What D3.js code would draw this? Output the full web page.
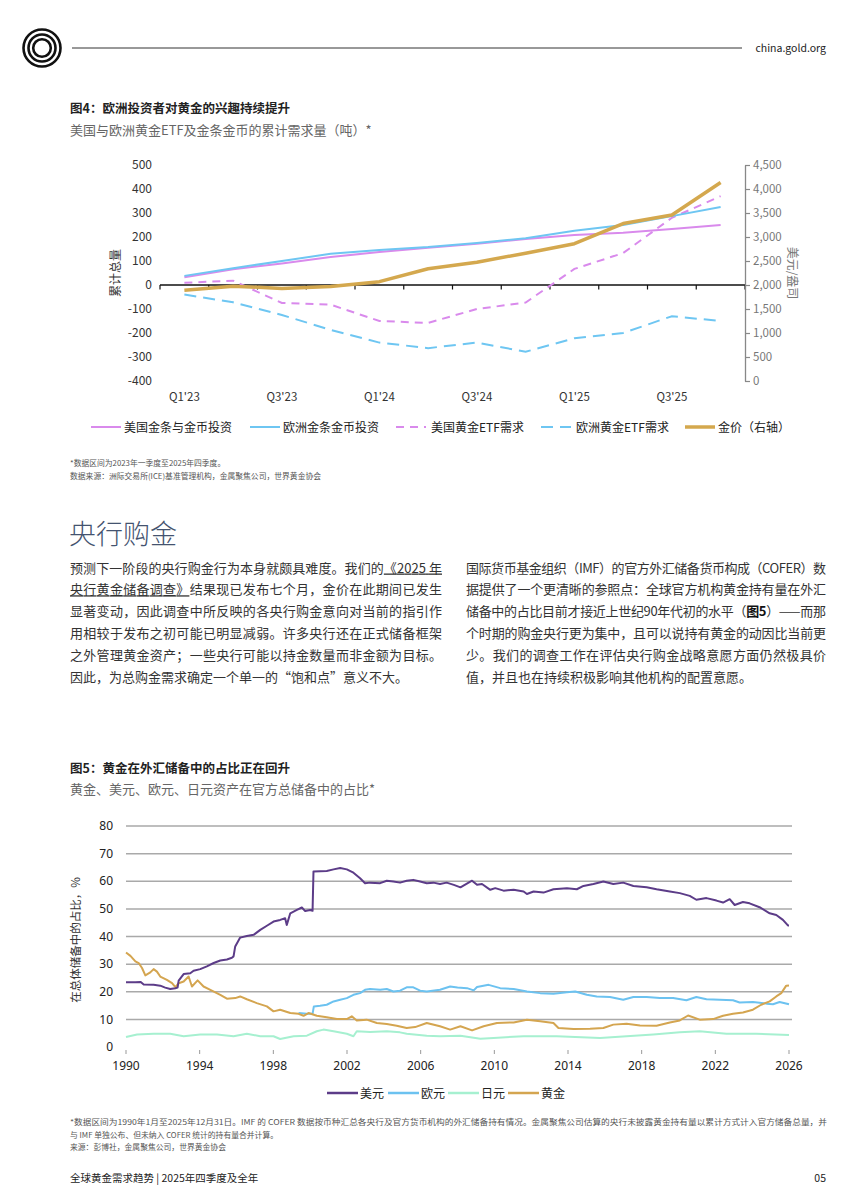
<!DOCTYPE html>
<html>
<head>
<meta charset="utf-8">
<script src="https://cdn.jsdelivr.net/npm/d3@7"></script>
<style>
  body { margin: 0; background: #fff; }
  svg { display: block; font-family: "Noto Sans CJK SC", "Noto Sans", sans-serif; }
</style>
</head>
<body>
<svg id="page" width="848" height="1202"></svg>
<script>
// ---- figure 4 data (quarterly, Q1'23 - Q4'25) ----
const quarters = ["Q1'23", "Q2'23", "Q3'23", "Q4'23", "Q1'24", "Q2'24", "Q3'24", "Q4'24", "Q1'25", "Q2'25", "Q3'25", "Q4'25"]
const usBarCoin = [32, 66, 90, 117, 137, 155, 172, 192, 208, 218, 233, 250]
const euBarCoin = [38, 70, 100, 130, 146, 158, 175, 195, 226, 250, 287, 325]
const usEtf = [9, 18, -75, -82, -150, -158, -100, -73, 67, 133, 280, 370]
const euEtf = [-40, -72, -125, -187, -240, -263, -240, -278, -222, -200, -130, -150]
const goldPrice = [1890, 1976, 1929, 1971, 2070, 2338, 2474, 2663, 2860, 3280, 3457, 4135]
const leftTicks = [500, 400, 300, 200, 100, 0, -100, -200, -300, -400]
const rightTicks = [0, 500, 1000, 1500, 2000, 2500, 3000, 3500, 4000, 4500]
const xLabelQuarters = ["Q1'23", "Q3'23", "Q1'24", "Q3'24", "Q1'25", "Q3'25"]

// ---- figure 5 data ([year, share %]) ----
const usdShare = [[1990.0,23.4],[1990.5,23.4],[1990.8,23.5],[1990.96,22.6],[1991.5,22.5],[1991.86,22.2],[1992.13,21.5],[1992.4,21.0],[1992.68,21.3],[1992.8,21.5],[1992.86,24.0],[1993.13,26.4],[1993.49,26.7],[1993.67,27.6],[1994.03,28.2],[1994.39,29.2],[1994.76,30.4],[1995.12,31.3],[1995.48,31.7],[1995.75,32.3],[1995.84,32.8],[1995.93,36.4],[1996.2,39.6],[1996.56,40.2],[1996.93,40.6],[1997.29,42.4],[1997.65,43.9],[1998.01,45.4],[1998.37,46.0],[1998.64,46.6],[1998.73,44.2],[1998.92,48.4],[1999.28,49.6],[1999.55,50.5],[1999.73,49.2],[2000.0,49.6],[2000.13,49.3],[2000.18,63.5],[2000.54,63.6],[2000.9,63.7],[2001.27,64.3],[2001.63,64.8],[2001.99,64.3],[2002.35,63.1],[2002.71,61.1],[2002.98,59.3],[2003.25,59.5],[2003.8,59.3],[2004.16,60.2],[2004.52,59.9],[2004.88,59.5],[2005.24,60.2],[2005.6,60.5],[2005.97,59.9],[2006.33,59.3],[2006.69,59.5],[2007.05,59.0],[2007.41,59.5],[2007.8,58.7],[2008.16,57.8],[2008.79,60.2],[2009.06,58.7],[2009.33,59.0],[2009.78,56.9],[2010.05,57.5],[2010.5,56.6],[2011.05,56.9],[2011.59,56.3],[2011.77,55.4],[2012.13,56.3],[2012.67,55.9],[2013.21,57.1],[2013.94,57.5],[2014.48,57.1],[2014.84,58.3],[2015.38,59.0],[2015.92,59.9],[2016.46,59.0],[2017.0,59.5],[2017.55,58.3],[2018.27,57.8],[2018.81,57.1],[2019.53,56.3],[2020.07,55.7],[2020.61,54.7],[2020.97,53.3],[2021.52,53.9],[2022.06,53.0],[2022.42,52.3],[2022.78,53.5],[2023.05,51.4],[2023.5,52.5],[2023.86,52.0],[2024.4,50.6],[2024.95,48.4],[2025.31,47.8],[2025.67,46.0],[2025.94,44.0],[2026.0,44.0]]
const eurShare = [[1999.37,12.3],[1999.82,12.0],[2000.13,12.0],[2000.2,14.7],[2000.54,14.9],[2000.9,15.3],[2001.27,16.5],[2001.63,17.1],[2001.99,17.7],[2002.35,18.9],[2002.71,19.5],[2002.98,20.7],[2003.25,21.0],[2003.8,20.7],[2004.16,21.0],[2004.52,20.1],[2004.88,20.4],[2005.24,21.6],[2005.6,21.6],[2005.97,20.4],[2006.33,20.1],[2007.05,20.7],[2007.6,21.9],[2008.0,21.5],[2008.52,21.3],[2008.88,20.5],[2009.06,21.7],[2009.69,22.5],[2010.32,21.3],[2011.05,21.0],[2011.77,20.1],[2012.49,19.5],[2013.21,19.3],[2013.94,19.8],[2014.39,20.1],[2015.02,18.9],[2015.56,18.3],[2016.28,18.1],[2017.0,17.1],[2017.55,18.1],[2018.27,18.1],[2018.99,17.7],[2019.71,17.7],[2020.43,16.9],[2020.97,18.1],[2021.52,17.3],[2022.24,17.1],[2022.96,16.9],[2023.32,16.1],[2024.04,16.3],[2024.77,15.7],[2025.13,15.5],[2025.49,16.3],[2026.0,15.5]]
const jpyShare = [[1990.0,3.6],[1990.6,4.5],[1991.5,4.8],[1992.4,4.8],[1993.13,3.9],[1994.03,4.5],[1994.94,4.5],[1995.84,3.9],[1996.56,4.8],[1997.29,3.9],[1998.01,3.9],[1998.37,2.9],[1999.1,3.9],[1999.82,4.1],[2000.36,5.7],[2000.72,6.3],[2001.27,5.7],[2001.99,4.8],[2002.35,3.9],[2002.53,5.7],[2003.25,5.4],[2004.16,5.7],[2004.88,5.3],[2005.24,4.8],[2006.33,4.1],[2007.05,3.9],[2008.16,4.1],[2009.24,3.0],[2009.96,3.3],[2011.59,3.9],[2013.39,3.9],[2015.74,3.3],[2017.18,3.9],[2018.63,4.5],[2020.07,5.3],[2021.15,5.7],[2022.6,4.8],[2024.22,4.8],[2026.0,4.3]]
const goldShare = [[1990.0,34.2],[1990.24,33.0],[1990.51,31.0],[1990.69,30.4],[1990.87,28.6],[1991.05,25.9],[1991.32,27.0],[1991.5,28.2],[1991.68,27.3],[1991.86,25.5],[1992.22,24.3],[1992.5,23.1],[1992.68,21.7],[1992.86,23.1],[1993.13,23.7],[1993.4,25.5],[1993.58,21.9],[1993.89,24.1],[1994.21,21.9],[1994.58,20.7],[1995.12,18.9],[1995.48,17.5],[1995.93,17.7],[1996.2,18.3],[1996.56,17.3],[1997.1,15.9],[1997.65,14.7],[1998.01,12.9],[1998.37,13.5],[1998.92,12.3],[1999.37,12.0],[1999.64,11.3],[1999.91,12.3],[2000.36,11.3],[2000.9,10.8],[2001.45,10.1],[2001.99,10.1],[2002.26,11.1],[2002.53,9.6],[2003.07,9.9],[2003.62,8.7],[2004.16,8.3],[2004.7,7.7],[2005.24,6.9],[2005.7,7.2],[2006.33,8.7],[2007.05,7.5],[2007.6,6.3],[2008.16,7.5],[2008.79,6.0],[2009.42,7.5],[2010.14,8.7],[2011.05,8.9],[2011.77,9.9],[2012.49,9.3],[2013.21,8.7],[2013.48,6.9],[2014.3,6.5],[2015.2,6.6],[2015.92,6.9],[2016.46,8.1],[2017.18,8.4],[2017.91,7.8],[2018.81,7.7],[2019.53,8.9],[2020.07,9.6],[2020.52,11.4],[2021.15,9.9],[2021.88,10.1],[2022.42,11.3],[2022.96,12.0],[2023.5,12.5],[2024.04,13.5],[2024.49,15.3],[2024.95,16.5],[2025.31,18.3],[2025.58,19.5],[2025.85,22.2],[2026.0,22.3]]
const shareTicks = [0, 10, 20, 30, 40, 50, 60, 70, 80]
const yearTicks = [1990, 1994, 1998, 2002, 2006, 2010, 2014, 2018, 2022, 2026]

// ---- body text ----
const leftPara = [
  [{ t: "预测下一阶段的央行购金行为本身就颇具难度。我们的" }, { t: "《2025 年", u: true }],
  [{ t: "央行黄金储备调查》", u: true }, { t: "结果现已发布七个月，金价在此期间已发生" }],
  [{ t: "显著变动，因此调查中所反映的各央行购金意向对当前的指引作" }],
  [{ t: "用相较于发布之初可能已明显减弱。许多央行还在正式储备框架" }],
  [{ t: "之外管理黄金资产；一些央行可能以持金数量而非金额为目标。" }],
  [{ t: "因此，为总购金需求确定一个单一的“饱和点”意义不大。" }]
]
const rightPara = [
  [{ t: "国际货币基金组织（IMF）的官方外汇储备货币构成（COFER）数" }],
  [{ t: "据提供了一个更清晰的参照点：全球官方机构黄金持有量在外汇" }],
  [{ t: "储备中的占比目前才接近上世纪90年代初的水平（" }, { t: "图5", b: true }, { t: "）——而那" }],
  [{ t: "个时期的购金央行更为集中，且可以说持有黄金的动因比当前更" }],
  [{ t: "少。我们的调查工作在评估央行购金战略意愿方面仍然极具价" }],
  [{ t: "值，并且也在持续积极影响其他机构的配置意愿。" }]
]

const svg = d3.select("#page")

// ---- header ----
const logo = svg.append("g").attr("transform", "translate(42,48)")
;[18.5, 13.5, 8.8].forEach(r => {
  logo.append("circle").attr("r", r).attr("fill", "none").attr("stroke", "#111").attr("stroke-width", 2.6)
})
svg.append("line").attr("x1", 72).attr("x2", 742).attr("y1", 48).attr("y2", 48)
  .attr("stroke", "#333").attr("stroke-width", 1)
svg.append("text").attr("x", 826).attr("y", 52).attr("text-anchor", "end")
  .attr("font-size", 10.5).attr("fill", "#222").text("china.gold.org")

// ---- figure 4 ----
svg.append("text").attr("x", 70).attr("y", 113).attr("font-size", 12.5).attr("font-weight", "bold")
  .attr("fill", "#222").text("图4：欧洲投资者对黄金的兴趣持续提升")
svg.append("text").attr("x", 70).attr("y", 135).attr("font-size", 13).attr("fill", "#666")
  .text("美国与欧洲黄金ETF及金条金币的累计需求量（吨）*")

const x4 = d3.scaleBand().domain(quarters).range([160, 745])
const yL = d3.scaleLinear().domain([-400, 500]).range([381, 165])
const yR = d3.scaleLinear().domain([0, 4500]).range([381, 165])
const cx = q => x4(q) + x4.bandwidth() / 2

svg.append("g").selectAll("text").data(leftTicks).enter().append("text")
  .attr("x", 152).attr("y", d => yL(d)).attr("dy", "0.35em").attr("text-anchor", "end")
  .attr("font-size", 12).attr("fill", "#333").text(d => d)

svg.append("text").attr("transform", `translate(120,${(165 + 381) / 2}) rotate(-90)`)
  .attr("text-anchor", "middle").attr("font-size", 12).attr("fill", "#333").text("累计总量")

// zero axis with quarter boundary ticks
svg.append("line").attr("x1", 160).attr("x2", 745).attr("y1", yL(0)).attr("y2", yL(0))
  .attr("stroke", "#111").attr("stroke-width", 1.3)
svg.append("g").selectAll("line").data(quarters.map(q => x4(q)).concat([745])).enter().append("line")
  .attr("x1", d => d).attr("x2", d => d).attr("y1", yL(0)).attr("y2", yL(0) + 4.5)
  .attr("stroke", "#111").attr("stroke-width", 1.2)

svg.append("g").selectAll("text").data(xLabelQuarters).enter().append("text")
  .attr("x", d => cx(d)).attr("y", 401).attr("text-anchor", "middle")
  .attr("font-size", 11.5).attr("fill", "#333").text(d => d)

const rAxis = svg.append("g").attr("transform", "translate(745,0)")
  .call(d3.axisRight(yR).tickValues(rightTicks).tickSize(5).tickSizeOuter(0).tickFormat(d3.format(",")))
rAxis.select(".domain").attr("stroke", "#888").attr("stroke-width", 1.3)
rAxis.selectAll(".tick line").attr("stroke", "#888").attr("stroke-width", 1.2)
rAxis.selectAll(".tick text").attr("font-size", 11.5).attr("fill", "#777")
  .attr("font-family", "\"Noto Sans CJK SC\", sans-serif").attr("x", 8)

svg.append("text").attr("transform", `translate(788,${(165 + 381) / 2}) rotate(90)`)
  .attr("text-anchor", "middle").attr("font-size", 12).attr("fill", "#777").text("美元/盎司")

const lineL = d3.line().x((d, i) => cx(quarters[i])).y(d => yL(d))
const lineR = d3.line().x((d, i) => cx(quarters[i])).y(d => yR(d))

const c4 = { us: "#d98aec", eu: "#6ec6f2", gold: "#d4a84e" }
svg.append("path").datum(euEtf).attr("d", lineL).attr("fill", "none")
  .attr("stroke", c4.eu).attr("stroke-width", 2).attr("stroke-dasharray", "12,7")
svg.append("path").datum(usEtf).attr("d", lineL).attr("fill", "none")
  .attr("stroke", c4.us).attr("stroke-width", 2).attr("stroke-dasharray", "8,6")
svg.append("path").datum(usBarCoin).attr("d", lineL).attr("fill", "none")
  .attr("stroke", c4.us).attr("stroke-width", 2)
svg.append("path").datum(euBarCoin).attr("d", lineL).attr("fill", "none")
  .attr("stroke", c4.eu).attr("stroke-width", 2)
svg.append("path").datum(goldPrice).attr("d", lineR).attr("fill", "none")
  .attr("stroke", c4.gold).attr("stroke-width", 3.5).attr("stroke-linejoin", "round")

const legend4 = [
  { label: "美国金条与金币投资", color: c4.us, dash: null, w: 2, x: 91 },
  { label: "欧洲金条金币投资", color: c4.eu, dash: null, w: 2, x: 250 },
  { label: "美国黄金ETF需求", color: c4.us, dash: "8,6", w: 2, x: 396 },
  { label: "欧洲黄金ETF需求", color: c4.eu, dash: "12,7", w: 2, x: 541 },
  { label: "金价（右轴）", color: c4.gold, dash: null, w: 3.5, x: 685 }
]
const lg4 = svg.append("g").selectAll("g").data(legend4).enter().append("g")
  .attr("transform", d => `translate(${d.x},427)`)
lg4.append("line").attr("x1", 0).attr("x2", 30).attr("y1", 0).attr("y2", 0)
  .attr("stroke", d => d.color).attr("stroke-width", d => d.w).attr("stroke-dasharray", d => d.dash)
lg4.append("text").attr("x", d => d.dash ? 35 : 33).attr("y", 4.5).attr("font-size", 12).attr("fill", "#222")
  .text(d => d.label)

svg.append("text").attr("x", 70).attr("y", 466).attr("font-size", 7.8).attr("fill", "#555")
  .text("*数据区间为2023年一季度至2025年四季度。")
svg.append("text").attr("x", 70).attr("y", 479).attr("font-size", 7.8).attr("fill", "#555")
  .text("数据来源：洲际交易所(ICE)基准管理机构，金属聚焦公司，世界黄金协会")

// ---- section text ----
svg.append("text").attr("x", 69).attr("y", 544).attr("font-size", 27).attr("font-weight", 300)
  .attr("fill", "#44536f").text("央行购金")

const drawPara = (lines, x0, width) => {
  lines.forEach((segs, i) => {
    const t = svg.append("text").attr("x", x0).attr("y", 572.5 + i * 21.8)
      .attr("font-size", 13).attr("fill", "#333")
    if (i < lines.length - 1) t.attr("textLength", width).attr("lengthAdjust", "spacing")
    segs.forEach(s => {
      const sp = t.append("tspan").text(s.t)
      if (s.u) sp.attr("text-decoration", "underline")
      if (s.b) sp.attr("font-weight", "bold").attr("fill", "#111")
    })
  })
}
drawPara(leftPara, 70, 372)
drawPara(rightPara, 466, 360)

// ---- figure 5 ----
svg.append("text").attr("x", 70).attr("y", 773).attr("font-size", 12.5).attr("font-weight", "bold")
  .attr("fill", "#222").text("图5：黄金在外汇储备中的占比正在回升")
svg.append("text").attr("x", 70).attr("y", 794).attr("font-size", 13).attr("fill", "#666")
  .text("黄金、美元、欧元、日元资产在官方总储备中的占比*")

const x5 = d3.scaleLinear().domain([1990, 2026]).range([126, 789])
const y5 = d3.scaleLinear().domain([0, 80]).range([1047, 826])

svg.append("g").selectAll("line").data(shareTicks.filter(d => d > 0)).enter().append("line")
  .attr("x1", 126).attr("x2", 792).attr("y1", d => y5(d)).attr("y2", d => y5(d))
  .attr("stroke", "#a9a9a9").attr("stroke-width", 1.5)
svg.append("g").selectAll("text").data(shareTicks).enter().append("text")
  .attr("x", 113).attr("y", d => y5(d)).attr("dy", "0.35em").attr("text-anchor", "end")
  .attr("font-family", "\"Noto Sans\", sans-serif").attr("font-size", 12).attr("fill", "#222").text(d => d)

svg.append("g").selectAll("line").data(yearTicks).enter().append("line")
  .attr("x1", d => x5(d)).attr("x2", d => x5(d)).attr("y1", 1050).attr("y2", 1054)
  .attr("stroke", "#999").attr("stroke-width", 1)
svg.append("g").selectAll("text").data(yearTicks).enter().append("text")
  .attr("x", d => x5(d)).attr("y", 1070).attr("text-anchor", "middle")
  .attr("font-family", "\"Noto Sans\", sans-serif").attr("font-size", 12).attr("fill", "#222").text(d => d)

svg.append("text").attr("transform", "translate(80,940) rotate(-90)")
  .attr("text-anchor", "middle").attr("font-size", 11.5).attr("fill", "#333").text("在总体储备中的占比，%")

const line5 = d3.line().x(d => x5(d[0])).y(d => y5(d[1]))
const c5 = { usd: "#5c3c88", eur: "#6cc2f0", jpy: "#a6f0d0", gold: "#d4a550" }
;[[jpyShare, c5.jpy], [eurShare, c5.eur], [goldShare, c5.gold], [usdShare, c5.usd]].forEach(([data, col]) => {
  svg.append("path").datum(data).attr("d", line5).attr("fill", "none")
    .attr("stroke", col).attr("stroke-width", 2).attr("stroke-linejoin", "round")
})

const legend5 = [
  { label: "美元", color: c5.usd, x: 327 },
  { label: "欧元", color: c5.eur, x: 388 },
  { label: "日元", color: c5.jpy, x: 448 },
  { label: "黄金", color: c5.gold, x: 508 }
]
const lg5 = svg.append("g").selectAll("g").data(legend5).enter().append("g")
  .attr("transform", d => `translate(${d.x},1093)`)
lg5.append("line").attr("x1", 0).attr("x2", 31).attr("y1", 0).attr("y2", 0)
  .attr("stroke", d => d.color).attr("stroke-width", 2.5)
lg5.append("text").attr("x", 33).attr("y", 4.5).attr("font-size", 12).attr("fill", "#222").text(d => d.label)

const notes5 = [
  "*数据区间为1990年1月至2025年12月31日。IMF 的 COFER 数据按币种汇总各央行及官方货币机构的外汇储备持有情况。金属聚焦公司估算的央行未披露黄金持有量以累计方式计入官方储备总量，并",
  "与 IMF 单独公布、但未纳入 COFER 统计的持有量合并计算。",
  "来源：彭博社，金属聚焦公司，世界黄金协会"
]
svg.append("g").selectAll("text").data(notes5).enter().append("text")
  .attr("x", 70).attr("y", (d, i) => 1125 + i * 12.5).attr("font-size", 7.8).attr("fill", "#555")
  .attr("textLength", (d, i) => i === 0 ? 757 : null).attr("lengthAdjust", "spacingAndGlyphs")
  .text(d => d)

// ---- footer ----
svg.append("text").attr("x", 70).attr("y", 1182).attr("font-size", 10.5).attr("fill", "#222")
  .text("全球黄金需求趋势 | 2025年四季度及全年")
svg.append("text").attr("x", 826).attr("y", 1182).attr("text-anchor", "end").attr("font-size", 10.5)
  .attr("fill", "#222").text("05")
</script>
</body>
</html>
